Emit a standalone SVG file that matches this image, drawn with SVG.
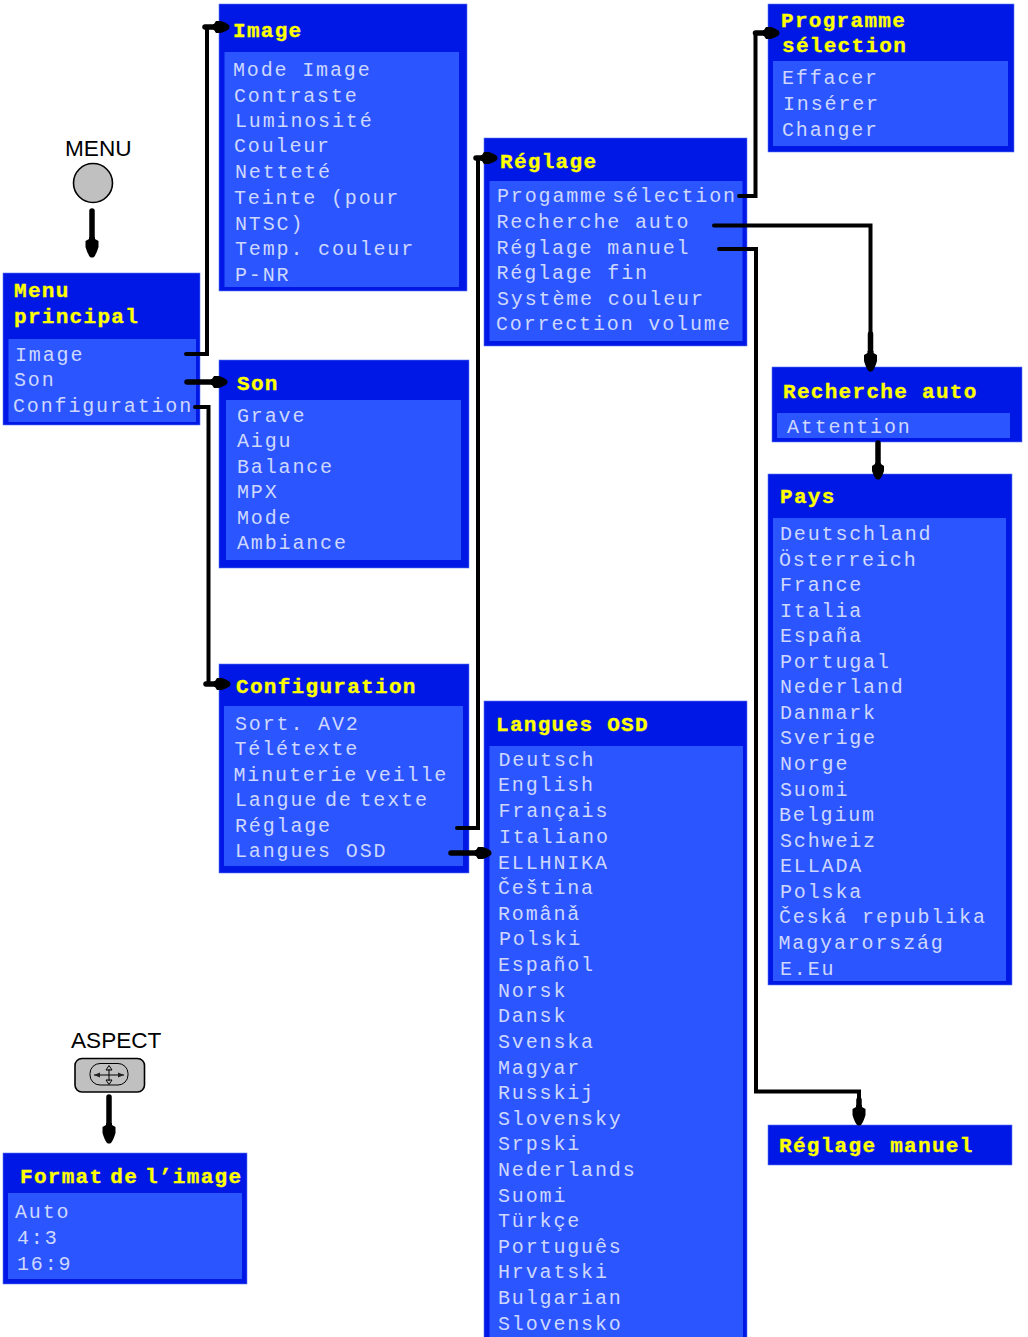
<svg xmlns="http://www.w3.org/2000/svg" width="1028" height="1337" viewBox="0 0 1028 1337">
<style>
.o{fill:#0018e6;stroke:#5f78f0;stroke-width:.6}
.i{fill:#2b55ff}
.t{font:bold 21px "Liberation Mono",monospace;fill:#ffff00;stroke:#ffff00;stroke-width:.35;letter-spacing:1.3px}
.m{font:20px "Liberation Mono",monospace;fill:#ced8ff;letter-spacing:1.85px}
.n{word-spacing:-7px}
.l{font:22.600px "Liberation Sans",Arial,sans-serif;fill:#000}
.c{fill:none;stroke:#000;stroke-width:4;stroke-linecap:round;stroke-linejoin:miter}
.d{fill:none;stroke:#000;stroke-width:5.500;stroke-linecap:round}
.b{fill:#c0c0c0;stroke:#000;stroke-width:1.600}
.g{fill:none;stroke:#000;stroke-width:1}
</style>
<defs>
<marker id="h" markerUnits="userSpaceOnUse" markerWidth="24" markerHeight="16" refX="1" refY="8" orient="auto"><path d="M0 5 H2 L4 1.500 H10 Q17 3.500 20 6 Q21 8 20 10 Q17 12.500 10 14.500 H4 L2 11 H0 Z" fill="#000"/></marker>
<marker id="s" markerUnits="userSpaceOnUse" markerWidth="20" markerHeight="16" refX="1" refY="8" orient="auto"><path d="M0 5 H1 L3 2 H8 Q13 3.500 16 6 Q17 8 16 10 Q13 12.500 8 14 H3 L1 11 H0 Z" fill="#000"/></marker>
</defs>

<g id="menu-button"><text class="l" x="65" y="156">MENU</text><circle class="b" cx="93" cy="183" r="19.500"/></g>
<g id="aspect-button"><text class="l" x="71" y="1048">ASPECT</text><rect class="b" x="75" y="1058.500" width="69.500" height="33.500" rx="7"/>
<rect class="g" x="90" y="1063.500" width="38" height="21.500" rx="10" stroke-width="1.500"/><path class="g" d="M94 1075H124M109 1069V1081"/><path d="M94 1075l6-2.500v5zM124 1075l-6-2.500v5z" fill="#222"/><path class="g" d="M109 1065.500l-3 4.500h6zM109 1084.500l-3-4.500h6z"/></g>

<g id="menu-principal"><rect class="o" x="3" y="273" width="197" height="152"/><rect class="i" x="8.500" y="339" width="187.500" height="83"/>
<text class="t" x="14" y="297">Menu</text><text class="t" x="14" y="323">principal</text>
<text class="m" x="15" y="361">Image</text><text class="m" x="14" y="386">Son</text><text class="m" x="13" y="412">Configuration</text></g>

<g id="image"><rect class="o" x="219" y="4" width="248" height="287"/><rect class="i" x="224.500" y="52" width="234.500" height="235"/>
<text class="t" x="233" y="37">Image</text>
<text class="m" x="233" y="76">Mode Image</text><text class="m" x="234" y="102">Contraste</text><text class="m" x="235" y="127">Luminosité</text><text class="m" x="234" y="152">Couleur</text><text class="m" x="235" y="178">Netteté</text><text class="m" x="234" y="204">Teinte (pour</text><text class="m" x="235" y="230">NTSC)</text><text class="m" x="235" y="255">Temp. couleur</text><text class="m" x="235" y="281">P-NR</text></g>

<g id="son"><rect class="o" x="219" y="360" width="250" height="208"/><rect class="i" x="226" y="400" width="235" height="160"/>
<text class="t" x="237" y="390">Son</text>
<text class="m" x="237" y="422">Grave</text><text class="m" x="237" y="447">Aigu</text><text class="m" x="237" y="473">Balance</text><text class="m" x="237" y="498">MPX</text><text class="m" x="237" y="524">Mode</text><text class="m" x="237" y="549">Ambiance</text></g>

<g id="configuration"><rect class="o" x="219" y="664" width="250" height="209"/><rect class="i" x="224" y="706" width="239" height="160"/>
<text class="t" x="236" y="693">Configuration</text>
<text class="m" x="235" y="730">Sort. AV2</text><text class="m" x="234.500" y="755">Télétexte</text><text class="m n" x="233.500" y="781">Minuterie veille</text><text class="m n" x="235" y="806">Langue de texte</text><text class="m" x="235" y="832">Réglage</text><text class="m" x="235" y="857">Langues OSD</text></g>

<g id="reglage"><rect class="o" x="484" y="138" width="263" height="208"/><rect class="i" x="489.500" y="181" width="253" height="160"/>
<text class="t" x="500" y="168">Réglage</text>
<text class="m" style="word-spacing:-9.500px" x="497" y="202">Progamme sélection</text><text class="m" x="496.500" y="228">Recherche auto</text><text class="m" x="496.500" y="254">Réglage manuel</text><text class="m" x="496.500" y="279">Réglage fin</text><text class="m" x="497" y="305">Système couleur</text><text class="m" x="496" y="330">Correction volume</text></g>

<g id="programme-selection"><rect class="o" x="768" y="4" width="246" height="148"/><rect class="i" x="773" y="61" width="235" height="85"/>
<text class="t" x="781" y="27">Programme</text><text class="t" x="782" y="52">sélection</text>
<text class="m" x="782" y="84">Effacer</text><text class="m" x="783" y="110">Insérer</text><text class="m" x="782" y="136">Changer</text></g>

<g id="recherche-auto"><rect class="o" x="772" y="367" width="250" height="75"/><rect class="i" x="777" y="413" width="233" height="25"/>
<text class="t" x="783" y="398">Recherche auto</text><text class="m" x="787" y="433">Attention</text></g>

<g id="pays"><rect class="o" x="768" y="474" width="244" height="511"/><rect class="i" x="773" y="518" width="233" height="463"/>
<text class="t" x="780" y="503">Pays</text>
<text class="m" x="780" y="540">Deutschland</text><text class="m" x="779" y="566">Österreich</text><text class="m" x="780" y="591">France</text><text class="m" x="780" y="617">Italia</text><text class="m" x="780" y="642">España</text><text class="m" x="780" y="668">Portugal</text><text class="m" x="780" y="693">Nederland</text><text class="m" x="780" y="719">Danmark</text><text class="m" x="780" y="744">Sverige</text><text class="m" x="780" y="770">Norge</text><text class="m" x="780" y="796">Suomi</text><text class="m" x="779" y="821">Belgium</text><text class="m" x="780" y="847">Schweiz</text><text class="m" x="780" y="872">ELLADA</text><text class="m" x="780" y="898">Polska</text><text class="m" x="779" y="923">Česká republika</text><text class="m" x="778.500" y="949">Magyarország</text><text class="m" x="780" y="975">E.Eu</text></g>

<g id="reglage-manuel"><rect class="o" x="768" y="1125" width="244" height="40"/><text class="t" x="779" y="1152">Réglage manuel</text></g>

<g id="langues-osd"><rect class="o" x="484" y="701" width="263" height="640"/><rect class="i" x="489.500" y="746" width="253.500" height="595"/>
<text class="t" x="496" y="731">Langues OSD</text>
<text class="m" x="498.500" y="766">Deutsch</text><text class="m" x="498" y="791">English</text><text class="m" x="498.500" y="817">Français</text><text class="m" x="499" y="843">Italiano</text><text class="m" x="498" y="869">ELLHNIKA</text><text class="m" x="498" y="894">Čeština</text><text class="m" x="498" y="920">Românǎ</text><text class="m" x="499" y="945">Polski</text><text class="m" x="498" y="971">Español</text><text class="m" x="498" y="997">Norsk</text><text class="m" x="498" y="1022">Dansk</text><text class="m" x="498" y="1048">Svenska</text><text class="m" x="498" y="1074">Magyar</text><text class="m" x="498" y="1099">Russkij</text><text class="m" x="498" y="1125">Slovensky</text><text class="m" x="498" y="1150">Srpski</text><text class="m" x="498" y="1176">Nederlands</text><text class="m" x="498" y="1202">Suomi</text><text class="m" x="498" y="1227">Türkçe</text><text class="m" x="498" y="1253">Português</text><text class="m" x="498" y="1278">Hrvatski</text><text class="m" x="498" y="1304">Bulgarian</text><text class="m" x="498" y="1330">Slovensko</text></g>

<g id="format-image"><rect class="o" x="3" y="1153" width="244" height="131"/><rect class="i" x="8" y="1193" width="234" height="86"/>
<text class="t n" x="20" y="1183">Format de l’image</text>
<text class="m" x="15" y="1218">Auto</text><text class="m" x="17" y="1244">4:3</text><text class="m" x="17" y="1270">16:9</text></g>

<g id="connectors">
<path class="d" d="M92 211V238" marker-end="url(#h)"/>
<path class="d" d="M109 1097V1124" marker-end="url(#h)"/>
<path class="c" d="M186 354H207V27"/><path class="d" d="M205 27H214" marker-end="url(#s)"/>
<path class="d" d="M187 382H212" marker-end="url(#s)"/>
<path class="c" d="M195 407H208.500V684"/><path class="d" d="M206 684H215" marker-end="url(#s)"/>
<path class="c" d="M457 828H478V158"/><path class="d" d="M476 158H482" marker-end="url(#s)"/>
<path class="d" d="M451 853H476" marker-end="url(#s)"/>
<path class="c" d="M739 196H755.500V33"/><path class="d" d="M755.500 33H764" marker-end="url(#s)"/>
<path class="c" d="M714 225.500H870.500V334"/><path class="d" d="M870.500 334V352" marker-end="url(#h)"/>
<path class="c" d="M719 249H756V1091.500H859V1106"/><path class="d" d="M859 1100V1106" marker-end="url(#h)"/>
<path class="d" d="M878 443V464" marker-end="url(#s)"/>
</g>
</svg>
